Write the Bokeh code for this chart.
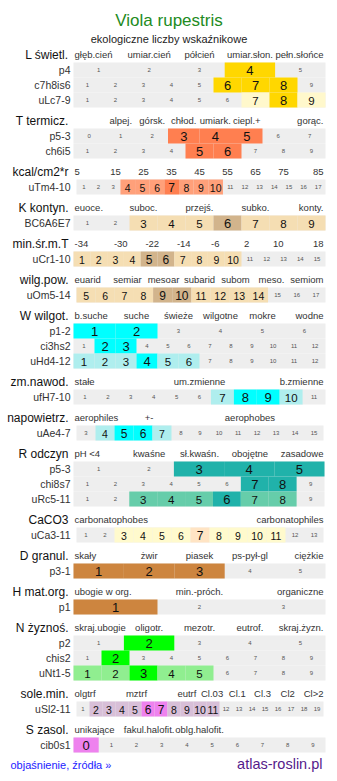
from bokeh.plotting import figure
from bokeh.models import ColumnDataSource, Range1d
from bokeh.embed import file_html
from bokeh.resources import INLINE
from bokeh.core.properties import value

# ---------------- data ----------------
TITLE = "Viola rupestris"
SUBTITLE = "ekologiczne liczby wskaźnikowe"
LINK = "objaśnienie, źródła »"
SITE = "atlas-roslin.pl"

sec_names = ["L świetl.", "T termicz.", "kcal/cm2*r", "K kontyn.", "min.śr.m.T",
             "wilg.pow.", "W wilgot.", "zm.nawod.", "napowietrz.", "R odczyn",
             "CaCO3", "D granul.", "H mat.org.", "N żyznoś.", "sole.min.", "S zasol."]

sec_scales = [
    ["głęb.cień", "umiar.cień", "półcień", "umiar.słon.", "pełn.słońce"],
    ["", "alpej.", "górsk.", "chłod.", "umiark.", "ciepl.+", "", "gorąc."],
    ["5", "15", "25", "35", "45", "55", "65", "75", "85"],
    ["euoce.", "", "suboc.", "", "przejś.", "", "subko.", "", "konty."],
    ["-34", "-30", "-22", "-14", "-6", "2", "10", "18"],
    ["euarid", "semiar", "mesoar", "subarid", "subom", "meso.", "semiom"],
    ["b.suche", "suche", "świeże", "wilgotne", "mokre", "wodne"],
    ["stałe", "um.zmienne", "b.zmienne"],
    ["aerophiles", "+-", "", "aerophobes", ""],
    ["pH <4", "kwaśne", "sł.kwaśn.", "obojętne", "zasadowe"],
    ["carbonatophobes", "carbonatophiles"],
    ["skały", "żwir", "piasek", "ps-pył-gl", "ciężkie"],
    ["ubogie w org.", "min.-próch.", "organiczne"],
    ["skraj.ubogie", "oligotr.", "mezotr.", "eutrof.", "skraj.żyzn."],
    ["olgtrf", "", "mztrf", "", "eutrf", "Cl.03", "Cl.1", "Cl.3", "Cl2", "Cl>2"],
    ["unikające", "fakul.halofit.", "oblg.halofit.", "", ""],
]

row_section = [0, 0, 0, 1, 1, 2, 3, 4, 5, 6, 6, 6, 7, 8, 9, 9, 9, 10, 11, 12, 13, 13, 13, 14, 15]
row_label = ["p4", "c7h8is6", "uLc7-9", "p5-3", "ch6i5", "uTm4-10", "BC6A6E7", "uCr1-10",
             "uOm5-14", "p1-2", "ci3hs2", "uHd4-12", "ufH7-10", "uAe4-7", "p5-3", "chi8s7",
             "uRc5-11", "uCa3-11", "p3-1", "p1", "p2", "chis2", "uNt1-5", "uSl2-11", "cib0s1"]
row_first = [1, 1, 1, 0, 1, 1, 1, 1, 5, 1, 1, 1, 1, 3, 1, 1, 1, 1, 1, 1, 1, 1, 1, 1, 0]
row_last = [5, 9, 9, 7, 9, 17, 9, 15, 17, 6, 12, 12, 11, 15, 5, 9, 9, 13, 5, 3, 5, 9, 9, 19, 9]
row_weak = [[], [], [7, 9], [], [], [4, 5, 6, 8, 9, 10], [3, 4, 5, 7, 8, 9],
            [1, 2, 3, 4, 7, 8, 9, 10], [5, 6, 7, 8, 11, 12, 13, 14], [], [], [1, 2, 3, 5, 6],
            [7, 10], [4, 7], [], [], [3, 4, 5, 7, 8], [3, 4, 5, 6, 8, 9, 10, 11], [], [], [], [],
            [1, 2, 4, 5], [2, 3, 4, 5, 8, 9, 10, 11], []]
row_strong = [[4], [6, 7, 8], [8], [3, 4, 5], [5, 6], [7], [6], [5, 6], [9, 10], [1, 2], [2, 3],
              [4], [8, 9], [5, 6], [3, 4, 5], [7, 8], [6], [7], [1, 2, 3], [1], [2], [2], [3],
              [6, 7], [0]]

# ---------------- styles / layout ----------------
FONT = "Liberation Sans"
W, H = 337, 781
GRID_L, GRID_R = 73, 325
sec_colors = [
    ("#FFD700", "#FFF8CC"), ("#FF7F50", "#FFA07A"), ("#FF7F50", "#FFA07A"),
    ("#D2B48C", "#F5DEB3"), ("#D2B48C", "#F5DEB3"), ("#D2B48C", "#F5DEB3"),
    ("#00FFFF", "#AFEEEE"), ("#00FFFF", "#AFEEEE"), ("#00FFFF", "#AFEEEE"),
    ("#20B2AA", "#66CDAA"), ("#FFE4C4", "#FFFACD"), ("#CD853F", "#DEB887"),
    ("#CD853F", "#DEB887"), ("#00FF00", "#90EE90"), ("#EE82EE", "#D8BFD8"),
    ("#EE82EE", "#D8BFD8"),
]
sec_x0 = [73, 73, 76, 73, 73, 76, 73, 73, 76, 73, 76, 73, 73, 73, 76, 73]
sec_x1 = [325, 325, 325, 325, 325, 325, 325, 325, 323, 324, 323, 325, 325, 325, 323, 325]
ROW_H = 15
HEAD_TO_ROW = 8
ROW_TO_HEAD = 13

p = figure(width=W, height=H, x_range=Range1d(0, W), y_range=Range1d(H, 0),
           output_backend="svg", toolbar_location=None, min_border=0,
           x_axis_location=None, y_axis_location=None)
p.xgrid.visible = False
p.ygrid.visible = False
p.outline_line_color = None
p.background_fill_color = "white"
p.border_fill_color = "white"

bg = dict(left=[], right=[], top=[], bottom=[])
hl = dict(left=[], right=[], top=[], bottom=[], color=[])
small = dict(x=[], y=[], t=[])
big = dict(x=[], y=[], t=[], size=[])
rlab = dict(x=[], y=[], t=[])
slab = dict(x=[], y=[], t=[])
cat = dict(x=[], y=[], t=[], align=[])

hy = 54
for s, name in enumerate(sec_names):
    slab["x"].append(68); slab["y"].append(hy); slab["t"].append(name)
    labels = sec_scales[s]
    k = len(labels)
    cw = (GRID_R - GRID_L) / k
    for j, lab in enumerate(labels):
        if not lab:
            continue
        if j == 0:
            x, a = GRID_L + 1, "left"
        elif j == k - 1:
            x, a = GRID_R - 2, "right"
        else:
            x, a = GRID_L + cw * (j + 0.5), "center"
        cat["x"].append(x); cat["y"].append(hy); cat["t"].append(lab); cat["align"].append(a)
    rows = [r for r in range(len(row_label)) if row_section[r] == s]
    top = hy + HEAD_TO_ROW
    x0, x1 = sec_x0[s], sec_x1[s]
    strong_c, weak_c = sec_colors[s]
    for r in rows:
        bot = top + ROW_H
        yc = (top + bot) / 2
        bg["left"].append(x0); bg["right"].append(x1); bg["top"].append(top); bg["bottom"].append(bot)
        rlab["x"].append(70); rlab["y"].append(yc); rlab["t"].append(row_label[r])
        vals = list(range(row_first[r], row_last[r] + 1))
        w = (x1 - x0) / len(vals)
        for i, v in enumerate(vals):
            l = x0 + i * w
            xc = l + w / 2
            if v in row_strong[r] or v in row_weak[r]:
                st = v in row_strong[r]
                hl["left"].append(l); hl["right"].append(l + w)
                hl["top"].append(top); hl["bottom"].append(bot)
                hl["color"].append(strong_c if st else weak_c)
                big["x"].append(xc); big["y"].append(yc + 0.5); big["t"].append(str(v))
                fs = 13 if st else 11.5
                if len(vals) > 12:
                    fs -= 1
                big["size"].append(f"{fs}px")
            else:
                small["x"].append(xc); small["y"].append(yc); small["t"].append(str(v))
        top = bot
    hy = top + ROW_TO_HEAD

p.quad(left="left", right="right", top="top", bottom="bottom", source=ColumnDataSource(bg),
       fill_color="#EEEEEE", line_color=None)
p.quad(left="left", right="right", top="top", bottom="bottom", source=ColumnDataSource(hl),
       fill_color="color", line_color=None)
p.text(x="x", y="y", text="t", source=ColumnDataSource(small), text_font=value(FONT),
       text_font_size="6px", text_color="#555555", text_align="center", text_baseline="middle")
p.text(x="x", y="y", text="t", source=ColumnDataSource(big), text_font=value(FONT),
       text_font_size="size", text_color="#111111", text_align="center", text_baseline="middle")
p.text(x="x", y="y", text="t", source=ColumnDataSource(rlab), text_font=value(FONT),
       text_font_size="10.5px", text_color="#333333", text_align="right", text_baseline="middle")
p.text(x="x", y="y", text="t", source=ColumnDataSource(slab), text_font=value(FONT),
       text_font_size="12px", text_color="#111111", text_align="right", text_baseline="middle")
p.text(x="x", y="y", text="t", source=ColumnDataSource(cat), text_font=value(FONT),
       text_font_size="9.5px", text_color="#333333", text_align="align", text_baseline="middle")

p.text(x=[W / 2], y=[20], text=[TITLE], text_font=value(FONT), text_font_size="17px",
       text_color="#228B22", text_align="center", text_baseline="middle")
p.text(x=[W / 2], y=[38.5], text=[SUBTITLE], text_font=value(FONT), text_font_size="11px",
       text_color="#222222", text_align="center", text_baseline="middle")
p.text(x=[10], y=[hy - 0.5], text=[LINK], text_font=value(FONT), text_font_size="11px",
       text_color="#2222FF", text_align="left", text_baseline="middle")
p.text(x=[322], y=[hy - 2], text=[SITE], text_font=value(FONT), text_font_size="14.5px",
       text_color="#551A8B", text_align="right", text_baseline="middle")

open("out.html", "w").write(file_html(p, INLINE))
